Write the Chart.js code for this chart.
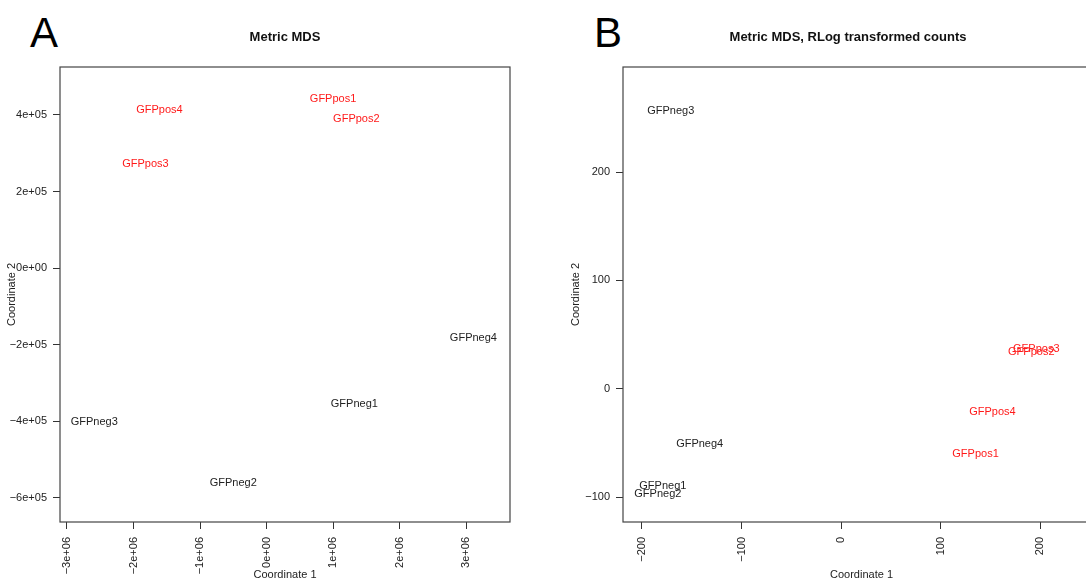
<!DOCTYPE html>
<html>
<head>
<meta charset="utf-8">
<script src="https://cdn.jsdelivr.net/npm/chart.js@4/dist/chart.umd.min.js"></script>
<style>
  body { margin: 0; width: 1086px; height: 582px; overflow: hidden; background: #fff; position: relative; }
  .panel { position: absolute; top: 0; }
  .letter { position: absolute; top: 12px; font-family: "Liberation Sans", Arial, sans-serif; font-size: 42px; line-height: 1; color: #000; }
</style>
</head>
<body>
<div class="letter" style="left:30px">A</div>
<div class="letter" style="left:594px">B</div>
<div class="panel" style="left:0px"><canvas id="mdsA" width="570" height="582"></canvas></div>
<div class="panel" style="left:543px"><canvas id="mdsB" width="610" height="582"></canvas></div>
<script>
var sampleNames = ['GFPpos1', 'GFPpos2', 'GFPpos3', 'GFPpos4', 'GFPneg1', 'GFPneg2', 'GFPneg3', 'GFPneg4'];
var sampleColors = ['#ff1a1a', '#ff1a1a', '#ff1a1a', '#ff1a1a', '#222222', '#222222', '#222222', '#222222'];

// panel A: metric MDS on raw counts
var coordA1 = [1.0e6, 1.35e6, -1.82e6, -1.61e6, 1.32e6, -0.5e6, -2.59e6, 3.11e6];
var coordA2 = [4.42e5, 3.9e5, 2.72e5, 4.13e5, -3.54e5, -5.6e5, -4.03e5, -1.82e5];
var xTicksA = [-3e6, -2e6, -1e6, 0, 1e6, 2e6, 3e6];
var xTickLabelsA = ['\u22123e+06', '\u22122e+06', '\u22121e+06', '0e+00', '1e+06', '2e+06', '3e+06'];
var yTicksA = [-6e5, -4e5, -2e5, 0, 2e5, 4e5];
var yTickLabelsA = ['\u22126e+05', '\u22124e+05', '\u22122e+05', '0e+00', '2e+05', '4e+05'];

// panel B: metric MDS on rlog counts
var coordB1 = [135, 191, 196, 152, -179, -184, -171, -142];
var coordB2 = [-60, 34, 37, -21, -90, -97, 256, -51];
var xTicksB = [-200, -100, 0, 100, 200];
var xTickLabelsB = ['\u2212200', '\u2212100', '0', '100', '200'];
var yTicksB = [-100, 0, 100, 200];
var yTickLabelsB = ['\u2212100', '0', '100', '200'];

Chart.defaults.font.family = '"Liberation Sans", Arial, sans-serif';
Chart.defaults.font.size = 11;
Chart.defaults.color = '#222';

// R-style text labels instead of point markers
var textLabels = {
    id: 'textLabels',
    afterDatasetsDraw: function (chart) {
        var ctx = chart.ctx;
        var meta = chart.getDatasetMeta(0);
        var ds = chart.data.datasets[0];
        ctx.save();
        ctx.font = '11px "Liberation Sans", Arial, sans-serif';
        ctx.textAlign = 'center';
        ctx.textBaseline = 'middle';
        meta.data.forEach(function (pt, i) {
            ctx.fillStyle = ds.labelColors[i];
            ctx.fillText(chart.data.labels[i], pt.x, pt.y);
        });
        ctx.restore();
    }
};

var plotBox = {
    id: 'plotBox',
    afterDraw: function (chart) {
        var a = chart.chartArea;
        var ctx = chart.ctx;
        ctx.save();
        ctx.strokeStyle = '#444';
        ctx.lineWidth = 1.2;
        ctx.strokeRect(a.left, a.top, a.right - a.left, a.bottom - a.top);
        ctx.restore();
    }
};

function drawMds(id, opts) {
    var points = opts.xs.map(function (x, i) { return { x: x, y: opts.ys[i] }; });
    var ctx = document.getElementById(id);
    return new Chart(ctx, {
        type: 'scatter',
        data: {
            labels: sampleNames,
            datasets: [{
                data: points,
                labelColors: sampleColors,
                pointRadius: 0,
                pointHoverRadius: 0
            }]
        },
        options: {
            responsive: false,
            animation: false,
            events: [],
            layout: { padding: 0 },
            plugins: {
                legend: { display: false },
                tooltip: { enabled: false },
                title: {
                    display: true,
                    text: opts.title,
                    color: '#111',
                    font: { size: 13, weight: 'bold' },
                    padding: { top: 30, bottom: 21.4 }
                }
            },
            scales: {
                x: {
                    type: 'linear',
                    min: opts.xMin,
                    max: opts.xMax,
                    afterFit: function (s) { s.height = 60; },
                    afterBuildTicks: function (s) {
                        s.ticks = opts.xTicks.map(function (v) { return { value: v }; });
                    },
                    ticks: {
                        autoSkip: false,
                        minRotation: 90,
                        maxRotation: 90,
                        padding: 8,
                        color: '#222',
                        callback: function (v, i) { return opts.xTickLabels[i]; }
                    },
                    grid: { display: true, drawOnChartArea: false, drawTicks: true, tickLength: 7, color: '#333' },
                    border: { display: false },
                    title: { display: true, text: 'Coordinate 1', color: '#222', font: { size: 11 }, padding: { top: 0, bottom: 0 } }
                },
                y: {
                    type: 'linear',
                    min: opts.yMin,
                    max: opts.yMax,
                    afterFit: function (s) { s.width = opts.yWidth; },
                    afterBuildTicks: function (s) {
                        s.ticks = opts.yTicks.map(function (v) { return { value: v }; });
                    },
                    ticks: {
                        autoSkip: false,
                        padding: 6,
                        color: '#222',
                        callback: function (v, i) { return opts.yTickLabels[i]; }
                    },
                    grid: { display: true, drawOnChartArea: false, drawTicks: true, tickLength: 7, color: '#333' },
                    border: { display: false },
                    title: { display: true, text: 'Coordinate 2', color: '#222', font: { size: 11 }, padding: { top: opts.yTitlePad, bottom: 0 } }
                },
                // empty right margin, so the title stays centred on the plot
                yRight: {
                    type: 'linear',
                    position: 'right',
                    afterFit: function (s) { s.width = opts.rightGap; },
                    ticks: { display: false },
                    grid: { display: false },
                    border: { display: false }
                }
            }
        },
        plugins: [textLabels, plotBox]
    });
}

drawMds('mdsA', {
    title: 'Metric MDS',
    xs: coordA1, ys: coordA2,
    xMin: -3.105e6, xMax: 3.66e6, yMin: -6.63e5, yMax: 5.25e5,
    xTicks: xTicksA, xTickLabels: xTickLabelsA,
    yTicks: yTicksA, yTickLabels: yTickLabelsA,
    rightGap: 60, yWidth: 60, yTitlePad: 5
});

drawMds('mdsB', {
    title: 'Metric MDS, RLog transformed counts',
    xs: coordB1, ys: coordB2,
    xMin: -219, xMax: 260, yMin: -123, yMax: 297,
    xTicks: xTicksB, xTickLabels: xTickLabelsB,
    yTicks: yTicksB, yTickLabels: yTickLabelsB,
    rightGap: 53, yWidth: 80, yTitlePad: 26
});
</script>
</body>
</html>
